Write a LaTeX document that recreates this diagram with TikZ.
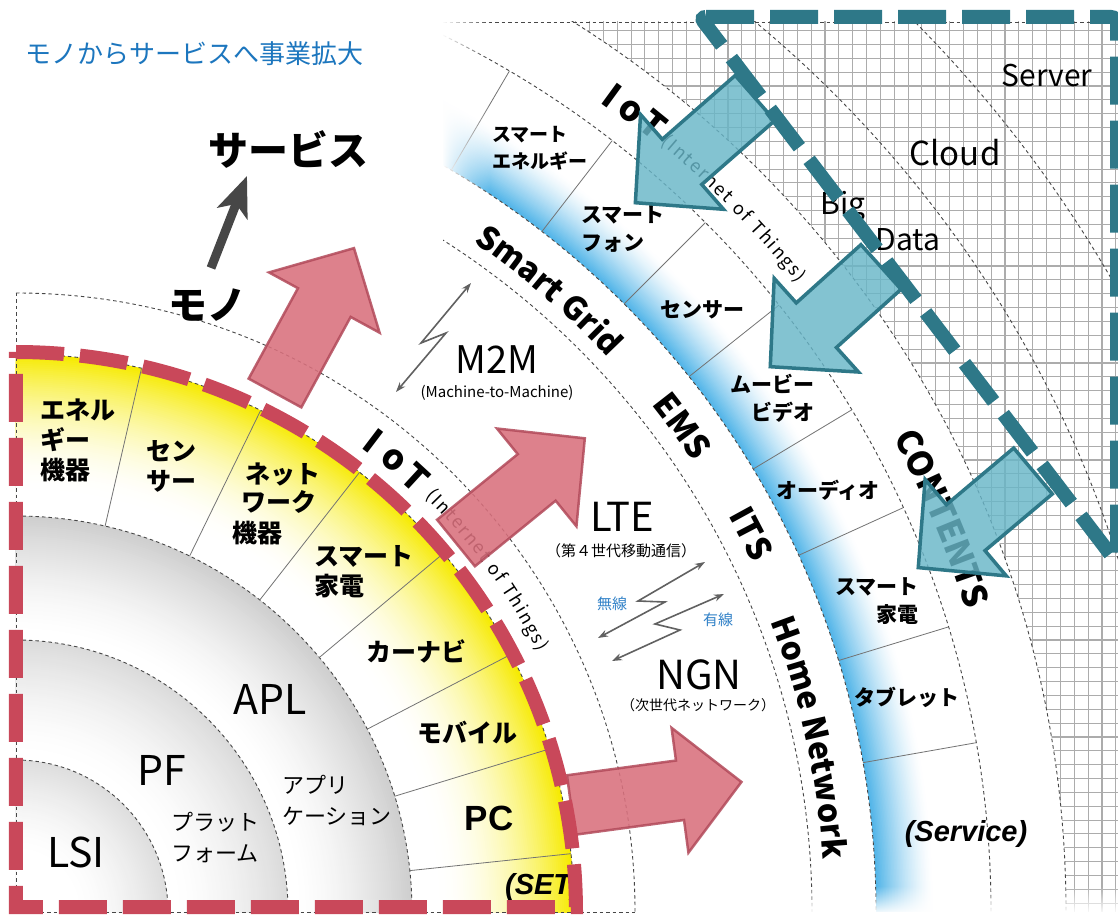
\documentclass[tikz,border=0pt]{standalone}
\usepackage{fontspec}
\setmainfont{Noto Sans CJK JP}
\newfontfamily\arialf{Liberation Sans}
\usetikzlibrary{arrows.meta,decorations.text,fadings}

\definecolor{titleblue}{RGB}{28,118,190}
\definecolor{wblue}{RGB}{50,130,200}
\definecolor{redd}{RGB}{201,72,90}
\definecolor{redfill}{RGB}{217,112,125}
\definecolor{redline}{RGB}{178,74,90}
\definecolor{teald}{RGB}{46,120,136}
\definecolor{tealfill}{RGB}{104,182,200}
\definecolor{yel}{RGB}{246,234,0}
\definecolor{skyb}{RGB}{80,180,232}
\definecolor{gridc}{RGB}{172,172,172}

\newcommand{\blkarrow}[5]{%
 \begin{scope}[shift={(#2,#3)}, rotate=#4]
 \path[#1] (0,-30) -- ({#5-62},-30) -- ({#5-62},-63) -- (#5,0) -- ({#5-62},63) -- ({#5-62},30) -- (0,30) -- cycle;
 \end{scope}}

\begin{document}
\begin{tikzpicture}[x=1pt,y=1pt,
  gdash/.style={draw=black!72, line width=0.9pt, dash pattern=on 3.5pt off 3pt},
  divl/.style={draw=black!55, line width=0.8pt},
  gridl/.style={draw=gridc, line width=1.1pt},
  redarr/.style={fill=redfill, fill opacity=0.88, draw=redline, draw opacity=0.85, line width=2.5pt, line join=miter},
  tealarr/.style={fill=tealfill, fill opacity=0.82, draw=teald, line width=3.5pt, line join=miter},
  reddash/.style={draw=redd, line width=14pt, dash pattern=on 48pt off 16pt},
  tealdash/.style={draw=teald, line width=14pt, dash pattern=on 48pt off 16pt},
  setl/.style={font=\bfseries\fontsize{25}{30}\selectfont, align=left, inner sep=0pt},
  svcl/.style={font=\bfseries\fontsize{21}{28}\selectfont, align=left, inner sep=0pt},
  latbig/.style={font=\fontsize{41}{41}\selectfont, inner sep=0pt},
  jsm/.style={font=\fontsize{22}{31}\selectfont, align=left, inner sep=0pt},
  zz/.style={draw=black!62, line width=1.6pt, {Stealth[length=10pt,width=7pt]}-{Stealth[length=10pt,width=7pt]}},
  ioti/.style={font=\bfseries\fontsize{35}{35}\selectfont, inner sep=0pt}
]
\useasboundingbox (-16,-2) rectangle (1102,912);
\fill[white] (-16,-2) rectangle (1102,912);

% ---------- outer region: grid, blue ring, dashed arcs
\begin{scope}
 \clip (427,1) rectangle (1102,890);
 \foreach \k in {-41,...,8} \draw[gridl] ({989+13.85*\k},0) -- ++(0,900);
 \foreach \k in {0,...,64} \draw[gridl] (420,{881.4-13.85*\k}) -- ++(700,0);
 \fill[white] (0,0) circle (1050pt);
 \foreach \r in {918,916.5,...,861} {
   \pgfmathsetmacro{\p}{100*((918-\r)/57)^1.4}
   \fill[skyb!\p!white] (0,0) circle (\r pt);
 }
 \fill[white] (0,0) circle (860pt);
 \foreach \r in {796,860,975,1050,1157,1265}
   \draw[gdash] (90:\r pt) arc[start angle=90,end angle=0,radius=\r pt];
 \foreach \a in {59.6,52.3,45,38.5,31,24.5,17,10} \draw[divl] (\a:860pt) -- (\a:975pt);
\end{scope}

% ---------- inner rings (manual gradients)
\begin{scope}
 \clip (0,0) rectangle (600,600);
 \foreach \r in {558,556,...,420} {
   \pgfmathsetmacro{\p}{100*((\r-420)/138)^2}
   \fill[yel!\p!white] (0,0) circle (\r pt);
 }
 \fill[white] (0,0) circle (420pt);
 \foreach \r in {396,394,...,280} {
   \pgfmathsetmacro{\p}{19*((\r-280)/116)^1.5}
   \fill[black!\p!white] (0,0) circle (\r pt);
 }
 \fill[white] (0,0) circle (279pt);
 \foreach \r in {272,270,...,160} {
   \pgfmathsetmacro{\p}{14*((\r-160)/112)^1.5}
   \fill[black!\p!white] (0,0) circle (\r pt);
 }
 \fill[white] (0,0) circle (159pt);
 \foreach \r in {152,150,...,60} {
   \pgfmathsetmacro{\p}{13*((\r-60)/92)^1.5}
   \fill[black!\p!white] (0,0) circle (\r pt);
 }
\end{scope}
\foreach \r in {152,272,396,558,619}
  \draw[gdash] (90:\r pt) arc[start angle=90,end angle=0,radius=\r pt];
\draw[gdash] (0,619) -- (0,0) -- (619,0);
\draw[gdash] (427,890) -- (1102,890);
\foreach \a in {77,64,52,40,27.5,17,6} \draw[divl] (\a:396pt) -- (\a:558pt);

% fades
\fill[white, path fading=east] (426,690) rectangle (474,893);
\fill[white, path fading=north] (622,-2) rectangle (1102,26);

% ---------- texts
\node[font=\fontsize{26}{26}\selectfont, text=titleblue, anchor=west, inner sep=0pt] (title) at (9,858) {モノからサービスへ事業拡大};
\node[font=\bfseries\fontsize{40}{40}\selectfont, inner sep=0pt] (svc) at (272,762) {サービス};
\node[font=\bfseries\fontsize{39}{39}\selectfont, inner sep=0pt] (mono) at (191,607) {モノ};
\coordinate (ga1) at (195,644);
\coordinate (ga2) at (231,736);
\draw[line width=9pt, black!72, -{Stealth[length=40pt,width=32pt,inset=10pt]}] (ga1) -- (ga2);

\node[setl, anchor=west] (s1) at (24,472) {エネル\\ギー\\機器};
\node[setl, anchor=west] (s2) at (130,446) {セン\\サー};
\node[setl] (s3a) at (267,438) {ネット};
\node[setl] (s3b) at (263,410) {ワーク};
\node[setl] (s3c) at (241,379) {機器};
\node[setl, anchor=west] (s4) at (298,340) {スマート\\家電};
\node[setl] (s5) at (400,261) {カーナビ};
\node[setl] (s6) at (451,179) {モバイル};
\node[font=\arialf\bfseries\fontsize{35}{35}\selectfont, inner sep=0pt] (s7) at (473,94) {PC};
\node[font=\arialf\bfseries\itshape\fontsize{29}{29}\selectfont, inner sep=0pt] (s8) at (527,25) {(SET)};

\node[latbig] (apl) at (254,213) {APL};
\node[latbig] (pf) at (146,142) {PF};
\node[latbig] (lsi) at (60,60) {LSI};
\node[jsm, anchor=west] (apli) at (266,112) {アプリ\\ケーション};
\node[jsm, anchor=west] (plat) at (155,74) {プラット\\フォーム};

\node[font=\fontsize{38}{38}\selectfont, inner sep=0pt] (m2m) at (481,552) {M2M};
\node[font=\fontsize{15}{15}\selectfont, inner sep=0pt] (m2ms) at (481,519) {(Machine-to-Machine)};
\node[font=\fontsize{40}{40}\selectfont, inner sep=0pt] (lte) at (606,395) {LTE};
\node[font=\fontsize{15}{15}\selectfont, inner sep=0pt] (ltes) at (605,361) {（第４世代移動通信）};
\node[font=\fontsize{40}{40}\selectfont, inner sep=0pt] (ngn) at (683,237) {NGN};
\node[font=\fontsize{14}{14}\selectfont, inner sep=0pt] (ngns) at (682,207) {（次世代ネットワーク）};
\node[font=\fontsize{15}{15}\selectfont, text=wblue, inner sep=0pt] (musen) at (596,308) {無線};
\node[font=\fontsize{15}{15}\selectfont, text=wblue, inner sep=0pt] (yusen) at (702,292) {有線};

\coordinate (za1) at (455,629); \coordinate (za2) at (405,569); \coordinate (za3) at (430,579); \coordinate (za4) at (380,520);
\draw[zz] (za1) -- (za2) -- (za3) -- (za4);
\coordinate (zb1) at (689,350); \coordinate (zb2) at (622,311); \coordinate (zb3) at (649,310); \coordinate (zb4) at (582,274);
\draw[zz] (zb1) -- (zb2) -- (zb3) -- (zb4);
\coordinate (zc1) at (708,318); \coordinate (zc2) at (639,288); \coordinate (zc3) at (664,282); \coordinate (zc4) at (596,251);
\draw[zz] (zc1) -- (zc2) -- (zc3) -- (zc4);

\node[svcl, anchor=west, font=\bfseries\fontsize{19}{27}\selectfont] (b1) at (476,763.5) {スマート\\エネルギー};
\node[svcl, anchor=west] (b2) at (565,682.5) {スマート\\フォン};
\node[svcl] (b3) at (686,602) {センサー};
\node[svcl, anchor=east, align=right] (b4) at (799,514) {ムービー\\ビデオ};
\node[svcl] (b5) at (812,422) {オーディオ};
\node[svcl, anchor=east, align=right] (b6) at (903,311) {スマート\\家電};
\node[svcl] (b7) at (891,215) {タブレット};
\node[font=\arialf\bfseries\itshape\fontsize{29}{29}\selectfont, inner sep=0pt] (b8) at (950,78) {(Service)};

\node[font=\fontsize{30}{30}\selectfont, inner sep=0pt] (big) at (827,705) {Big};
\node[font=\fontsize{30}{30}\selectfont, inner sep=0pt] (data) at (892,672) {Data};
\node[font=\fontsize{33}{33}\selectfont, inner sep=0pt] (cloud) at (939,759) {Cloud};
\node[font=\fontsize{30}{30}\selectfont, inner sep=0pt] (server) at (1031,836) {Server};

% ring labels
\node[ioti, rotate=-37.2] (iI) at (52.8:591pt) {I};
\node[ioti, rotate=-39.8] (io) at (50.2:589pt) {o};
\node[ioti, rotate=-42.6] (iT) at (47.4:591pt) {T};
\path[decorate, decoration={text along path, text={|\fontsize{18}{18}\selectfont|(Internet of Things)}, text align=fit to path}]
  (45.4:583pt) arc[start angle=45.4, end angle=26.5, radius=583pt];
\node[ioti, rotate=-36.1] (oI) at (53.9:1011pt) {I};
\node[ioti, rotate=-37.5] (oo) at (52.5:1009pt) {o};
\node[ioti, rotate=-39.0] (oT) at (51.0:1013pt) {T};
\path[decorate, decoration={text along path, text={|\fontsize{18}{18}\selectfont|(Internet of Things)}, text align=fit to path}]
  (50.0:1003pt) arc[start angle=50.0, end angle=38.8, radius=1003pt];
\path[decorate, decoration={text along path, text={|\bfseries\fontsize{32}{32}\selectfont|Smart Grid}, text align=center}]
  (63.4:811pt) arc[start angle=63.4, end angle=35.4, radius=811pt];
\path[decorate, decoration={text along path, text={|\bfseries\fontsize{33}{33}\selectfont|EMS}, text align=center}]
  (46.1:813pt) arc[start angle=46.1, end angle=26.1, radius=813pt];
\path[decorate, decoration={text along path, text={|\bfseries\fontsize{33}{33}\selectfont|ITS}, text align=center}]
  (37.2:815pt) arc[start angle=37.2, end angle=17.2, radius=815pt];
\path[decorate, decoration={text along path, text={|\bfseries\fontsize{32}{32}\selectfont|Home Network}, text align=center}]
  (28.4:809pt) arc[start angle=28.4, end angle=-3.6, radius=809pt];
\path[decorate, decoration={text along path, text={|\bfseries\fontsize{34}{34}\selectfont|CONTENTS}, text align=center}]
  (35:997pt) arc[start angle=35, end angle=11, radius=997pt];

% ---------- block arrows
\blkarrow{redarr}{259}{519}{61.4}{165}
\blkarrow{redarr}{440}{369}{39.1}{166}
\blkarrow{redarr}{555}{107}{7.7}{172}
\blkarrow{tealarr}{739}{814}{221.2}{159}
\blkarrow{tealarr}{865}{645}{222}{149}
\blkarrow{tealarr}{1017}{441}{220.1}{150}

% ---------- dashed outlines
\draw[reddash] (90:560pt) arc[start angle=90,end angle=0.5,radius=560pt] -- (0,5) -- cycle;
\draw[tealdash, rounded corners=6pt] (684,895) -- (1101,895) -- (1101,349) -- cycle;
\end{tikzpicture}
\end{document}
